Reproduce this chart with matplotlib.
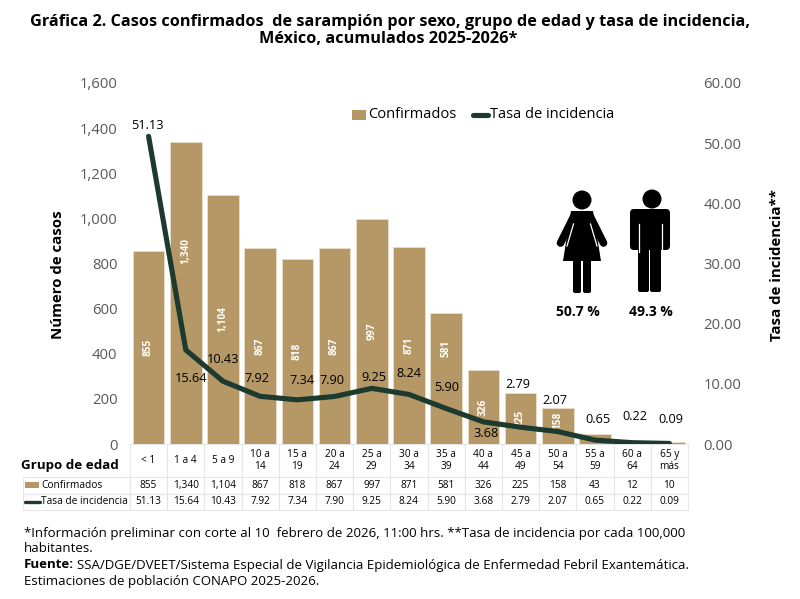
"""Casos confirmados de sarampion por grupo de edad."""

import matplotlib

matplotlib.use("Agg")
import matplotlib.pyplot as plt
from matplotlib.lines import Line2D
from matplotlib.patches import Circle, FancyBboxPatch, Polygon, Rectangle

plt.rcParams["font.family"] = ["Open Sans", "DejaVu Sans"]

AGE_GROUPS = ["< 1", "1 a 4", "5 a 9", "10 a\n14", "15 a\n19", "20 a\n24", "25 a\n29", "30 a\n34",
              "35 a\n39", "40 a\n44", "45 a\n49", "50 a\n54", "55 a\n59", "60 a\n64", "65 y\nmás"]
CONFIRMED = [855, 1340, 1104, 867, 818, 867, 997, 871, 581, 326, 225, 158, 43, 12, 10]
RATE = [51.13, 15.64, 10.43, 7.92, 7.34, 7.90, 9.25, 8.24, 5.90, 3.68, 2.79, 2.07, 0.65, 0.22, 0.09]

# label offsets from the line point, in pixels
RATE_DX = [-1, 5, 0, -3, 5, -3, 2, 0, 0, 3, -3, -3, 3, 3, 1]
RATE_DY = [11, -29, 22, 18, 19, 16, 11, 21, 21, -12, 43, 31, 21, 26, 24]
# bar labels that do not sit at mid height, in pixels
BAR_DY = {1: 42, 8: 30, 11: 6}
BAR_LABEL_COUNT = 12

GOLD = "#B59865"
DARK = "#1C3A30"
GRAY = "#595959"
GRID = "#E6E6E6"
PX = 0.72

fig = plt.figure(figsize=(8, 5.99), dpi=100)
ax = fig.add_axes([130 / 800, 1 - 444 / 599, 558 / 800, 361 / 599])
ax2 = ax.twinx()

xs = list(range(len(AGE_GROUPS)))
ax.bar(xs, CONFIRMED, width=0.85, color=GOLD, edgecolor="#E9DFCB", linewidth=0.6)
ax2.plot(xs, RATE, color=DARK, linewidth=3.7, solid_capstyle="round", solid_joinstyle="round")

ax.set_xlim(-0.5, len(xs) - 0.5)
ax.set_ylim(0, 1600)
ax2.set_ylim(0, 60)
ax.set_xticks([])
ax.set_yticks(range(0, 1601, 200))
ax.set_yticklabels([f"{v:,}" for v in range(0, 1601, 200)])
ax2.set_yticks(range(0, 61, 10))
ax2.set_yticklabels([f"{v:.2f}" for v in range(0, 61, 10)])
ax.tick_params(length=0, labelsize=10.7, labelcolor=GRAY, pad=9)
ax2.tick_params(length=0, labelsize=10.7, labelcolor=GRAY, pad=11)
for axis in (ax, ax2):
    for spine in axis.spines.values():
        spine.set_visible(False)

ax.set_ylabel("Número de casos", fontsize=10.8, fontweight="bold")
ax.yaxis.set_label_coords(-65 / 558, 0.47)
ax2.set_ylabel("Tasa de incidencia**", fontsize=10.8, fontweight="bold", rotation=90)
ax2.yaxis.set_label_coords(1 + 82 / 558, 0.495)

for i, value in enumerate(CONFIRMED[:BAR_LABEL_COUNT]):
    ax.annotate(f"{value:,}", (i, value / 2), xytext=(0, BAR_DY.get(i, 0) * PX), textcoords="offset points",
                rotation=90, ha="center", va="center", color="white", fontsize=7.3, fontweight="bold")

for i, value in enumerate(RATE):
    ax2.annotate(f"{value:.2f}", (i, value), xytext=(RATE_DX[i] * PX, RATE_DY[i] * PX), textcoords="offset points",
                 ha="center", va="center", color="black", fontsize=9.2)

# data table under the plot
table_rows = [[""] + AGE_GROUPS,
              [""] + [f"{v:,}" for v in CONFIRMED],
              [""] + [f"{v:.2f}" for v in RATE]]
col_w = [107 / 665] + [558 / 15 / 665] * 15
table = ax.table(cellText=table_rows, colWidths=col_w, cellLoc="center",
                 bbox=[-107 / 558, -66 / 361, 665 / 558, 66 / 361])
table.auto_set_font_size(False)
for (r, c), cell in table.get_celld().items():
    cell.set_edgecolor(GRID)
    cell.set_linewidth(0.8)
    cell.set_height({0: 33, 1: 16.5, 2: 16.5}[r] / 361)
    cell.get_text().set_fontsize(7.3)
    cell.get_text().set_linespacing(1.05)
    if r == 0 and c == 0:
        cell.set_linewidth(0)

# overlay in pixels: titles, legend, table keys, notes and the two figures
over = fig.add_axes([0, 0, 1, 1], zorder=5)
over.set_xlim(0, 800)
over.set_ylim(599, 0)
over.axis("off")

over.text(390, 22, "Gráfica 2. Casos confirmados  de sarampión por sexo, grupo de edad y tasa de incidencia,",
          ha="center", va="center", fontsize=11.7, fontweight="bold")
over.text(388, 39, "México, acumulados 2025-2026*", ha="center", va="center", fontsize=11.7, fontweight="bold")

over.add_patch(Rectangle((352, 110), 14, 10, color=GOLD, lw=0))
over.text(368, 114, "Confirmados", ha="left", va="center", fontsize=10.5)
over.add_line(Line2D([473, 488], [115, 115], color=DARK, lw=3.7, solid_capstyle="round"))
over.text(490, 114, "Tasa de incidencia", ha="left", va="center", fontsize=10.5)

over.text(21, 465, "Grupo de edad", ha="left", va="center", fontsize=9.6, fontweight="bold")
over.add_patch(Rectangle((25, 482), 14, 6, color=GOLD, lw=0))
over.text(41, 485, "Confirmados", ha="left", va="center", fontsize=7.3)
over.add_line(Line2D([25, 40], [501.5, 501.5], color=DARK, lw=2.4, solid_capstyle="round"))
over.text(41, 501.5, "Tasa de incidencia", ha="left", va="center", fontsize=7.3)

notes = [("*Información preliminar con corte al 10  febrero de 2026, 11:00 hrs. **Tasa de incidencia por cada 100,000", 534),
         ("habitantes.", 549),
         ("Estimaciones de población CONAPO 2025-2026.", 581)]
for note, y in notes:
    over.text(24, y, note, ha="left", va="center", fontsize=9.5)
over.text(24, 565, "Fuente:", ha="left", va="center", fontsize=9.5, fontweight="bold")
over.text(77, 565, "SSA/DGE/DVEET/Sistema Especial de Vigilancia Epidemiológica de Enfermedad Febril Exantemática.",
          ha="left", va="center", fontsize=9.5)

# woman
over.add_patch(Circle((582, 200), 9.5, color="black", lw=0))
for hx, sx in ((560.5, 574), (603.5, 590)):
    over.add_line(Line2D([sx, hx], [216, 243], color="black", lw=5.5, solid_capstyle="round"))
over.add_patch(Polygon([(571, 211), (593, 211), (601, 261), (563, 261)], color="black", lw=0))
for x0, x1 in ((573.5, 567), (590.5, 597)):
    over.add_line(Line2D([x0, x1], [224, 246], color="white", lw=0.9))
for x0 in (575, 585):
    over.add_patch(FancyBboxPatch((x0, 258), 4, 33, boxstyle="round,pad=2", color="black", lw=0))

# man
over.add_patch(Circle((652, 199), 9.5, color="black", lw=0))
over.add_patch(FancyBboxPatch((634, 213), 32, 33, boxstyle="round,pad=4", color="black", lw=0))
for x0 in (638.5, 661.5):
    over.add_line(Line2D([x0, x0], [224, 252], color="white", lw=0.9))
for x0 in (640, 652):
    over.add_patch(FancyBboxPatch((x0, 250), 7, 40, boxstyle="round,pad=2", color="black", lw=0))

over.text(578, 312, "50.7 %", ha="center", va="center", fontsize=10, fontweight="bold")
over.text(651, 312, "49.3 %", ha="center", va="center", fontsize=10, fontweight="bold")

fig.savefig("out.png", dpi=100)
plt.close(fig)
